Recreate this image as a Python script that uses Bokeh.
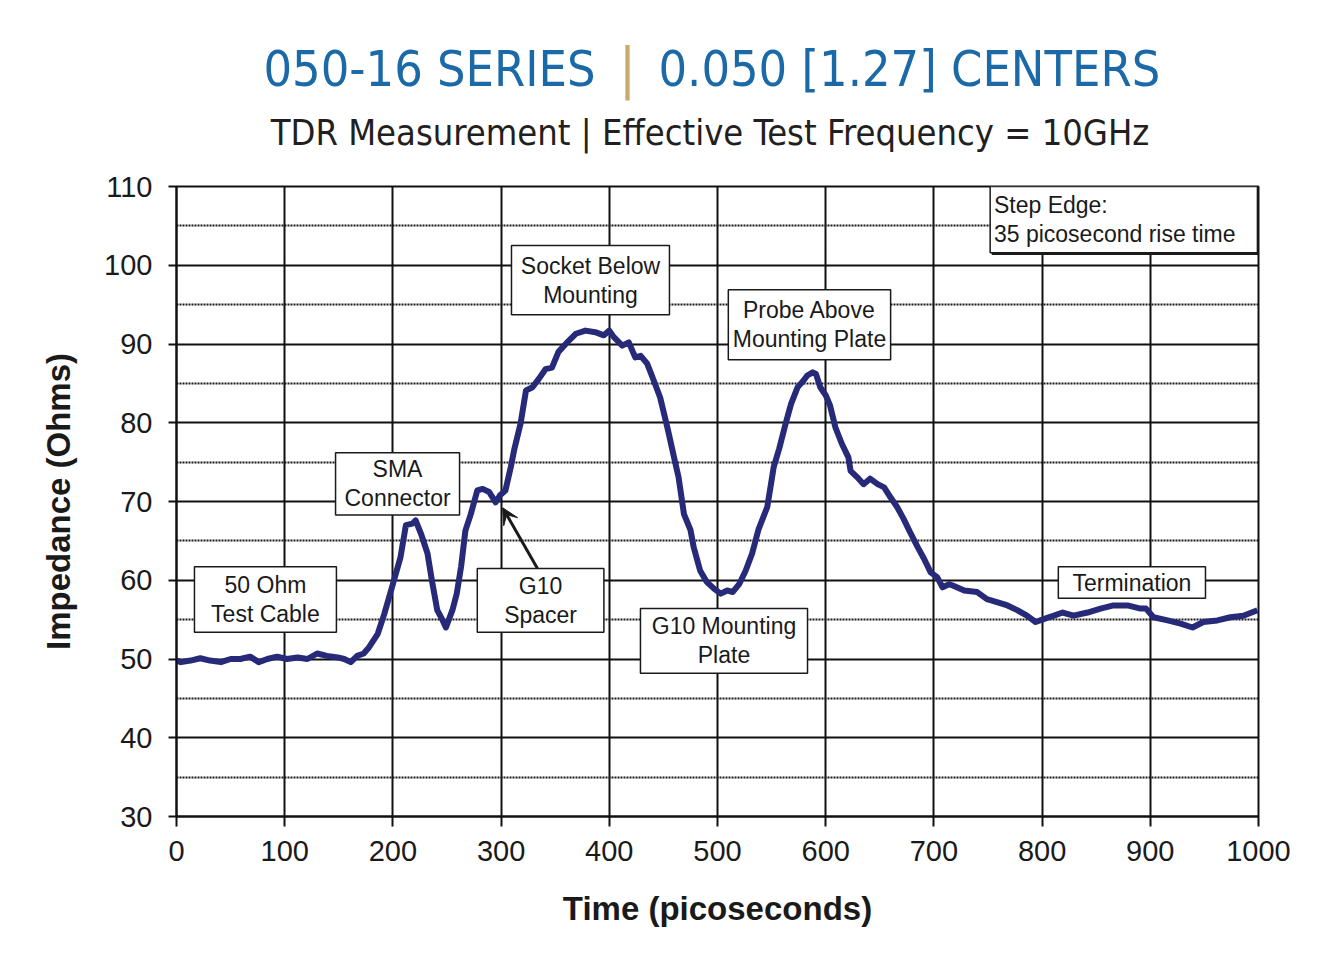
from bokeh.plotting import figure
from bokeh.layouts import column
from bokeh.models import Arrow, VeeHead, FixedTicker, ColumnDataSource, Range1d
from bokeh.core.properties import value
from bokeh.embed import file_html
from bokeh.resources import INLINE

# ---- data ----
time_ps = [0, 4, 13, 22, 31, 41, 50, 59, 68, 76, 84, 93, 102, 112, 121, 130, 139, 149, 155, 161,
           167, 173, 178, 186, 192, 201, 207, 212, 218, 221, 226, 232, 236, 241, 246, 249, 255, 259,
           263, 267, 272, 278, 283, 289, 295, 299, 304, 309, 312, 318, 323, 329, 335, 341, 347, 353,
           361, 369, 378, 387, 395, 400, 404, 412, 418, 424, 429, 435, 441, 447, 454, 460, 464, 469,
           475, 478, 484, 490, 497, 503, 509, 514, 520, 526, 532, 538, 546, 552, 557, 563, 568, 574,
           578, 583, 588, 591, 595, 600, 604, 609, 615, 621, 623, 629, 635, 641, 648, 654, 660, 666,
           672, 678, 685, 691, 697, 703, 708, 714, 718, 728, 740, 749, 759, 768, 777, 786, 794, 802,
           811, 819, 829, 842, 854, 866, 879, 891, 896, 903, 916, 928, 939, 949, 962, 974, 986, 999]
impedance_ohm = [49.8, 49.6, 49.8, 50.1, 49.8, 49.6, 50.0, 50.0, 50.3, 49.6, 50.0, 50.3, 50.0, 50.2,
                 50.0, 50.7, 50.4, 50.2, 50.0, 49.6, 50.4, 50.7, 51.5, 53.2, 55.7, 60.0, 62.9, 67.0,
                 67.2, 67.6, 65.9, 63.4, 60.0, 56.2, 54.9, 54.0, 56.2, 58.3, 61.7, 66.3, 68.4, 71.4,
                 71.6, 71.2, 69.9, 70.8, 71.4, 74.4, 76.5, 79.9, 84.1, 84.5, 85.6, 86.8, 87.0, 89.0,
                 90.2, 91.3, 91.7, 91.5, 91.1, 91.7, 90.9, 89.8, 90.2, 88.3, 88.5, 87.5, 85.4, 83.2,
                 79.2, 75.5, 73.1, 68.4, 66.4, 64.2, 61.2, 59.8, 58.9, 58.3, 58.7, 58.5, 59.5, 61.2,
                 63.4, 66.5, 69.3, 74.4, 76.7, 79.9, 82.4, 84.5, 85.1, 86.0, 86.4, 86.2, 84.5, 83.5,
                 82.2, 79.4, 77.3, 75.6, 73.9, 73.1, 72.2, 72.9, 72.2, 71.8, 70.5, 69.3, 67.8, 66.1,
                 64.2, 62.7, 61.0, 60.4, 59.1, 59.5, 59.3, 58.7, 58.5, 57.6, 57.2, 56.8, 56.2, 55.5,
                 54.7, 55.1, 55.5, 55.9, 55.5, 55.9, 56.4, 56.8, 56.8, 56.4, 56.4, 55.3, 54.9, 54.5,
                 54.0, 54.7, 54.9, 55.3, 55.5, 56.2]

x_ticks = [0, 100, 200, 300, 400, 500, 600, 700, 800, 900, 1000]
y_ticks = [30, 40, 50, 60, 70, 80, 90, 100, 110]
y_minor = [35, 45, 55, 65, 75, 85, 95, 105]

note_texts = ["50 Ohm\nTest Cable", "SMA\nConnector", "G10\nSpacer", "Socket Below\nMounting",
              "Probe Above\nMounting Plate", "G10 Mounting\nPlate", "Termination"]
step_note = "Step Edge:\n35 picosecond rise time"

title_left = "050-16 SERIES"
title_right = "0.050 [1.27] CENTERS"
subtitle = "TDR Measurement | Effective Test Frequency = 10GHz"

ARIAL = "Liberation Sans"
COND = "DejaVu Sans Condensed"
W = 1320
TITLE_H = 170
FL, FR = 176, 62  # frame borders shared by both figures

# ---- title strip (its own figure, page-pixel coordinates, y downward) ----
t = figure(width=W, height=TITLE_H, x_range=Range1d(FL, W - FR), y_range=Range1d(TITLE_H, 0),
           output_backend="svg", toolbar_location=None,
           min_border_left=FL, min_border_right=FR, min_border_top=0, min_border_bottom=0)
t.axis.visible = False
t.grid.visible = False
t.outline_line_color = None
t.background_fill_color = "white"
t.border_fill_color = "white"
t.text(x=[595], y=[68], text=[title_left], text_align="right", text_baseline="alphabetic",
       text_font=value(COND), text_font_size="50px", text_color="#1b69a6")
t.text(x=[627], y=[67], text=["|"], text_align="center", text_baseline="alphabetic",
       text_font=value(COND), text_font_size="56px", text_color="#c9a96e")
t.text(x=[658], y=[68], text=[title_right], text_align="left", text_baseline="alphabetic",
       text_font=value(COND), text_font_size="50px", text_color="#1b69a6")
t.text(x=[709.5], y=[131.5], text=[subtitle], text_align="center", text_baseline="alphabetic",
       text_font=value(COND), text_font_size="36px", text_color="#231f20")

# ---- main chart ----
p = figure(width=W, height=945 - TITLE_H, x_range=(0, 1000), y_range=(30, 110),
           output_backend="svg", toolbar_location=None,
           min_border_left=FL, min_border_right=FR, min_border_top=186 - TITLE_H, min_border_bottom=129)
p.background_fill_color = "white"
p.border_fill_color = "white"
p.outline_line_color = "#111111"
p.outline_line_width = 2

for ax in (p.xaxis[0], p.yaxis[0]):
    ax.axis_line_color = "#111111"
    ax.axis_line_width = 2
    ax.major_tick_line_color = "#111111"
    ax.major_tick_line_width = 2
    ax.major_tick_in = 0
    ax.minor_tick_line_color = None
    ax.major_label_text_font = ARIAL
    ax.major_label_text_font_size = "29px"
    ax.major_label_text_color = "#1a1a1a"
    ax.axis_label_text_font = ARIAL
    ax.axis_label_text_font_style = "bold"
    ax.axis_label_text_font_size = "33px"
    ax.axis_label_text_color = "#1a1a1a"

p.xaxis.ticker = FixedTicker(ticks=x_ticks)
p.yaxis.ticker = FixedTicker(ticks=y_ticks, minor_ticks=y_minor)
p.xaxis.major_tick_out = 10
p.yaxis.major_tick_out = 8
p.xaxis.major_label_standoff = 14
p.yaxis.major_label_standoff = 16
p.xaxis.axis_label = "Time (picoseconds)"
p.yaxis.axis_label = "Impedance (Ohms)"
p.xaxis.axis_label_standoff = 26
p.yaxis.axis_label_standoff = 24

p.xgrid.grid_line_color = "#111111"
p.xgrid.grid_line_width = 2
p.ygrid.grid_line_color = "#111111"
p.ygrid.grid_line_width = 2
p.ygrid.minor_grid_line_color = "#1a1a1a"
p.ygrid.minor_grid_line_width = 2
p.ygrid.minor_grid_line_dash = "2 1"

src = ColumnDataSource(data=dict(t=time_ps, z=impedance_ohm))
p.line("t", "z", source=src, line_color="#262a78", line_width=6, line_join="round")

# annotation boxes (left, right, top, bottom in data units)
boxes = [(16.6, 147.8, 61.7, 53.4), (147.0, 261.6, 76.2, 68.3), (278.0, 395.0, 61.5, 53.4),
         (309.6, 455.6, 102.5, 93.7), (510.0, 660.0, 96.9, 88.0), (428.8, 583.2, 56.4, 48.2),
         (815.0, 951.0, 61.7, 57.7)]
p.quad(left=[b[0] for b in boxes], right=[b[1] for b in boxes],
       top=[b[2] for b in boxes], bottom=[b[3] for b in boxes],
       fill_color="white", line_color="#1a1a1a", line_width=1.5)
p.text(x=[(b[0] + b[1]) / 2 for b in boxes], y=[(b[2] + b[3]) / 2 for b in boxes],
       text=note_texts, text_align="center", text_baseline="middle",
       text_font=value(ARIAL), text_font_size="23px", text_color="#1a1a1a", text_line_height=1.12)

p.quad(left=[753.5], right=[1000.5], top=[109.7], bottom=[101.3], fill_color="#1a1a1a", line_color=None)
p.quad(left=[752.0], right=[999.0], top=[110.0], bottom=[101.6],
       fill_color="white", line_color="#1a1a1a", line_width=1.5)
p.text(x=[755.5], y=[105.8], text=[step_note], text_align="left", text_baseline="middle",
       text_font=value(ARIAL), text_font_size="23px", text_color="#1a1a1a", text_line_height=1.12)

p.add_layout(Arrow(x_start=333.6, y_start=61.5, x_end=301.5, y_end=69.2,
                   line_color="#1a1a1a", line_width=3,
                   end=VeeHead(size=16, fill_color="#1a1a1a", line_color="#1a1a1a")))

layout = column(t, p, spacing=0)
open("out.html", "w").write(file_html(layout, INLINE))
